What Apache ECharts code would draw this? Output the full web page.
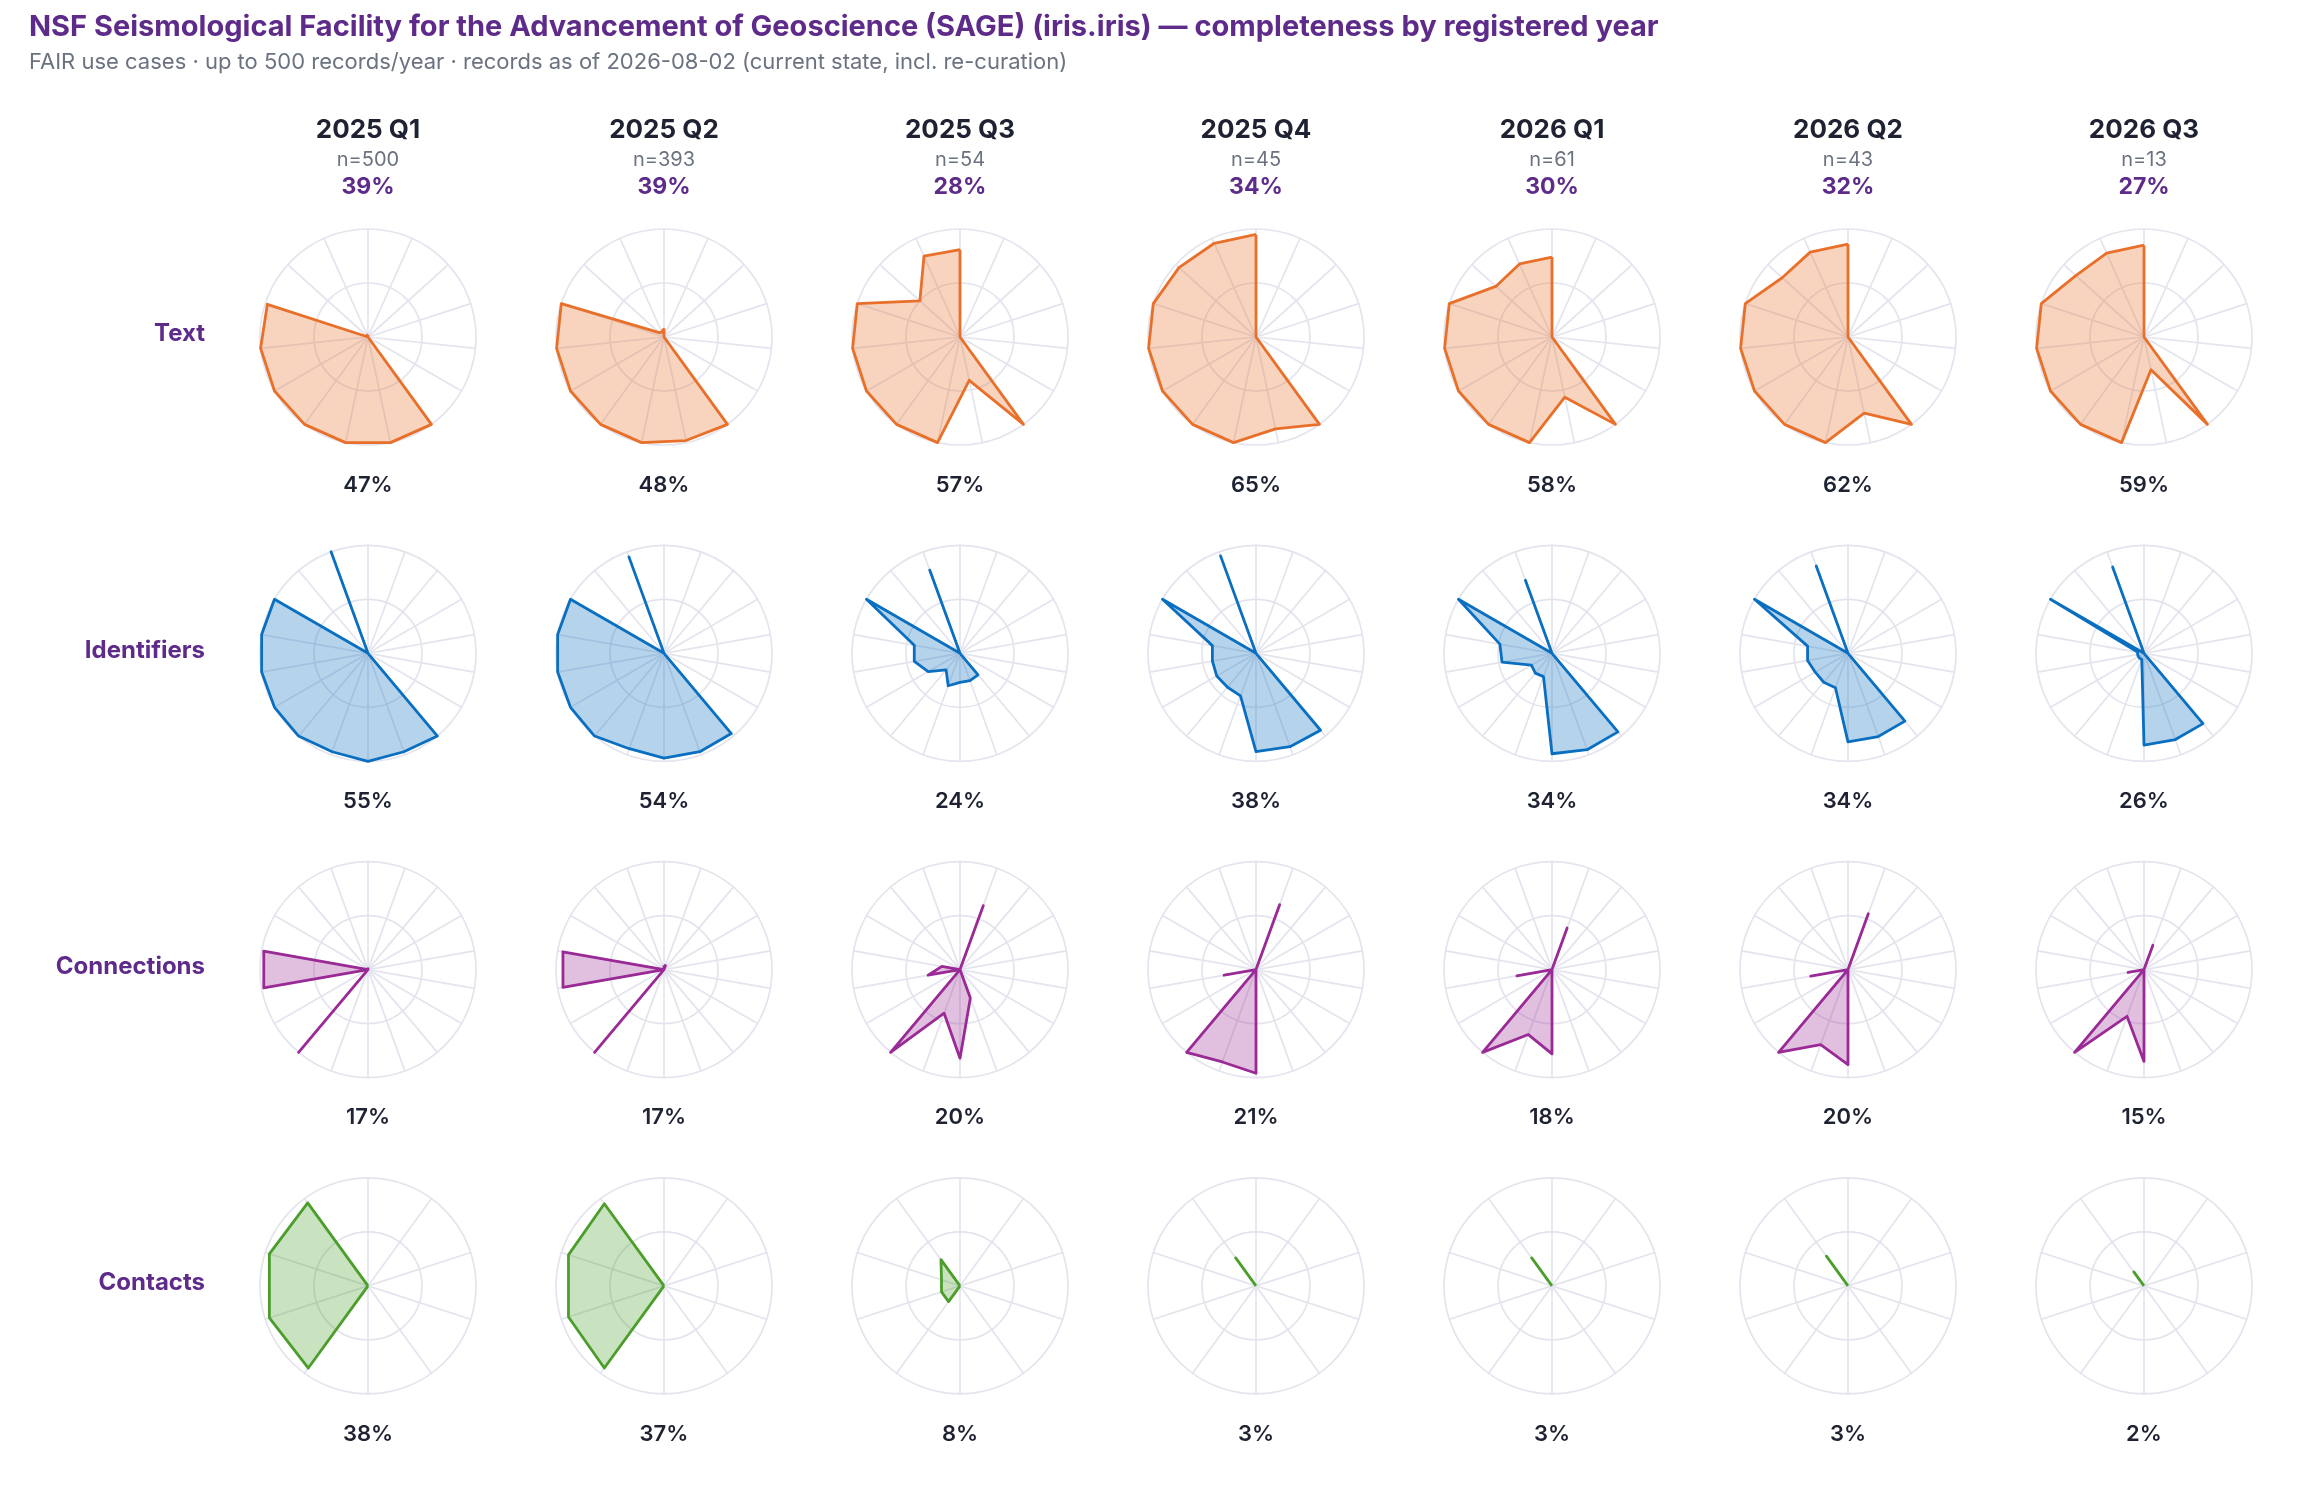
<!DOCTYPE html>
<html>
<head>
<meta charset="utf-8">
<title>SAGE completeness by registered year</title>
<script src="https://cdn.jsdelivr.net/npm/echarts@6/dist/echarts.min.js"></script>
<style>
  html, body { margin: 0; padding: 0; background: #ffffff; }
  #main { width: 2320px; height: 1496px; }
</style>
</head>
<body>
<div id="main"></div>
<script>
// column headers
var periods = ['2025 Q1', '2025 Q2', '2025 Q3', '2025 Q4', '2026 Q1', '2026 Q2', '2026 Q3'];
var recordCounts = [500, 393, 54, 45, 61, 43, 13];
var overallPct = [39, 39, 28, 34, 30, 32, 27];
var groups = ['Text', 'Identifiers', 'Connections', 'Contacts'];

// share of records filled per use case (0..1), spokes read clockwise from 12 o'clock
var textValues = [
  [0.02, 0, 0, 0, 0, 0, 1, 1, 1, 1, 1, 1, 0.98, 0, 0.02],
  [0.08, 0, 0, 0, 0, 0, 1, 0.98, 1, 1, 1, 1, 1, 0.06, 0.05],
  [0.81, 0, 0, 0, 0, 0, 1, 0.41, 1, 1, 1, 1, 1, 0.5, 0.82],
  [0.95, 0, 0, 0, 0, 0, 1, 0.87, 1, 1, 1, 1, 1, 0.96, 0.95],
  [0.74, 0, 0, 0, 0, 0, 1, 0.57, 1, 1, 1, 1, 1, 0.70, 0.74],
  [0.86, 0, 0, 0, 0, 0, 1, 0.72, 1, 1, 1, 1, 1, 0.82, 0.86],
  [0.85, 0, 0, 0, 0, 0, 1, 0.31, 1, 1, 1, 1, 1, 0.85, 0.85]
];
var identifierValues = [
  [0, 0, 0, 0, 0, 0, 0, 1, 0.97, 1, 0.97, 1, 1, 1, 1, 1, 0, 1],
  [0, 0, 0, 0, 0, 0, 0, 0.97, 0.97, 0.97, 0.94, 1, 1, 1, 1, 1, 0, 0.95],
  [0, 0, 0, 0, 0, 0, 0, 0.26, 0.27, 0.27, 0.32, 0.2, 0.34, 0.43, 0.43, 1, 0, 0.82],
  [0, 0, 0, 0, 0, 0, 0, 0.93, 0.92, 0.91, 0.42, 0.41, 0.42, 0.41, 0.41, 1, 0, 0.96],
  [0, 0, 0, 0, 0, 0, 0, 0.95, 0.95, 0.93, 0.23, 0.24, 0.22, 0.47, 0.49, 1, 0, 0.72],
  [0, 0, 0, 0, 0, 0, 0, 0.82, 0.82, 0.82, 0.34, 0.35, 0.35, 0.38, 0.38, 1, 0, 0.86],
  [0, 0, 0, 0, 0, 0, 0, 0.85, 0.85, 0.85, 0.06, 0.06, 0.06, 0.06, 0.06, 1, 0, 0.85]
];
var connectionValues = [
  [0.02, 0, 0, 0, 0, 0, 0, 0, 0, 0, 0, 1, 0, 0.98, 0.98, 0, 0, 0],
  [0.04, 0.04, 0, 0, 0, 0, 0, 0, 0, 0, 0, 1, 0, 0.95, 0.95, 0, 0, 0],
  [0, 0.63, 0, 0, 0, 0, 0, 0, 0.28, 0.82, 0.43, 1, 0, 0.30, 0.17, 0, 0, 0],
  [0, 0.64, 0, 0, 0, 0, 0, 0, 0, 0.96, 0.91, 1, 0, 0.30, 0, 0, 0, 0],
  [0, 0.41, 0, 0, 0, 0, 0, 0, 0, 0.78, 0.64, 1, 0, 0.33, 0, 0, 0, 0],
  [0, 0.55, 0, 0, 0, 0, 0, 0, 0, 0.88, 0.74, 1, 0, 0.35, 0, 0, 0, 0],
  [0, 0.24, 0, 0, 0, 0, 0, 0, 0, 0.85, 0.46, 1, 0, 0.15, 0, 0, 0, 0]
];
var contactValues = [
  [0, 0, 0, 0, 0, 0, 0.94, 0.96, 0.96, 0.95],
  [0, 0, 0, 0, 0, 0, 0.94, 0.93, 0.93, 0.94],
  [0, 0, 0, 0, 0, 0, 0.18, 0.18, 0.18, 0.30],
  [0, 0, 0, 0, 0, 0, 0, 0, 0, 0.32],
  [0, 0, 0, 0, 0, 0, 0, 0, 0, 0.32],
  [0, 0, 0, 0, 0, 0, 0, 0, 0, 0.34],
  [0, 0, 0, 0, 0, 0, 0, 0, 0, 0.16]
];

// completeness label under each radar
var textPct = [47, 48, 57, 65, 58, 62, 59];
var identifierPct = [55, 54, 24, 38, 34, 34, 26];
var connectionPct = [17, 17, 20, 21, 18, 20, 15];
var contactPct = [38, 37, 8, 3, 3, 3, 2];

var chart = echarts.init(document.getElementById('main'));

var FONT = 'Inter, "Noto Sans", sans-serif';
var PURPLE = '#5e2b8a';
var DARK = '#1e2232';
var GRID = '#e4e4ee';

var rows = [
  { values: textValues, pct: textPct, color: '#e8702a' },
  { values: identifierValues, pct: identifierPct, color: '#0b6fc1' },
  { values: connectionValues, pct: connectionPct, color: '#9a2a96' },
  { values: contactValues, pct: contactPct, color: '#4c9e2c' }
];

var colX = function (c) { return 368 + c * 296; };
var rowY = function (r) { return 337 + r * 316.3; };

// echarts lays indicators out counter-clockwise, the picture goes clockwise
function toCcw(v) {
  return v.map(function (x, i) { return v[(v.length - i) % v.length]; });
}

function txt(x, y, text, size, weight, color, align) {
  return {
    type: 'text', x: x, y: y, silent: true,
    style: {
      text: text, fill: color,
      font: weight + ' ' + size + 'px ' + FONT,
      fontSize: size, fontWeight: weight, fontFamily: FONT,
      align: align || 'center', verticalAlign: 'middle',
      textAlign: align || 'center', textVerticalAlign: 'middle'
    }
  };
}

var radars = [], series = [], graphics = [];

graphics.push(txt(29, 27, 'NSF Seismological Facility for the Advancement of Geoscience (SAGE) (iris.iris) \u2014 completeness by registered year', 29, 'bold', PURPLE, 'left'));
graphics.push(txt(29, 62, 'FAIR use cases \u00b7 up to 500 records/year \u00b7 records as of 2026-08-02 (current state, incl. re-curation)', 22, 'normal', '#6b7280', 'left'));

periods.forEach(function (p, c) {
  graphics.push(txt(colX(c), 130, p, 26, 'bold', DARK));
  graphics.push(txt(colX(c), 160, 'n=' + recordCounts[c], 20, 'normal', '#6b7280'));
  graphics.push(txt(colX(c), 187, overallPct[c] + '%', 23, 'bold', PURPLE));
});

rows.forEach(function (row, r) {
  graphics.push(txt(205, rowY(r) - 3, groups[r], 24, 'bold', PURPLE, 'right'));
  row.values.forEach(function (vals, c) {
    var n = vals.length;
    var ind = [];
    for (var i = 0; i < n; i++) ind.push({ name: '', min: 0, max: 1 });
    radars.push({
      center: [colX(c), rowY(r)],
      radius: 108,
      startAngle: 90,
      shape: 'circle',
      splitNumber: 2,
      indicator: ind,
      axisName: { show: false },
      axisLine: { lineStyle: { color: GRID, width: 1.7 } },
      splitLine: { lineStyle: { color: GRID, width: 1.7 } },
      splitArea: { show: false },
      axisTick: { show: false },
      axisLabel: { show: false }
    });
    series.push({
      type: 'radar',
      radarIndex: radars.length - 1,
      symbol: 'none',
      silent: true,
      lineStyle: { color: row.color, width: 2.8, join: 'round' },
      areaStyle: { color: row.color, opacity: 0.3 },
      data: [{ value: toCcw(vals) }]
    });
    graphics.push(txt(colX(c), rowY(r) + 148, row.pct[c] + '%', 22, '600', DARK));
  });
});

chart.setOption({
  backgroundColor: '#ffffff',
  animation: false,
  radar: radars,
  series: series,
  graphic: graphics
});
</script>
</body>
</html>
